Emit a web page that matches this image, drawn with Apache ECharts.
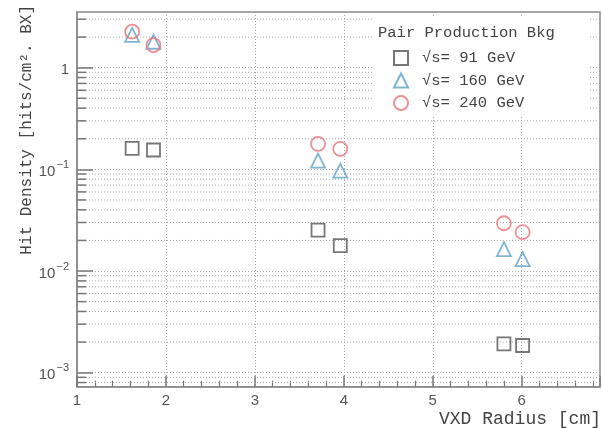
<!DOCTYPE html>
<html><head><meta charset="utf-8">
<script src="https://cdn.jsdelivr.net/npm/echarts@6/dist/echarts.min.js"></script>
<style>html,body{margin:0;padding:0;background:#fff}#c{width:602px;height:428px}</style>
</head><body><div id="c"></div>
<script>
// ---- data ----
const xRadius = [1.62, 1.86, 3.71, 3.96, 5.80, 6.01];
const hit91  = [0.161, 0.155, 0.0253, 0.0178, 0.00192, 0.00185];
const hit160 = [2.10, 1.80, 0.122, 0.097, 0.0164, 0.0131];
const hit240 = [2.26, 1.67, 0.178, 0.159, 0.0295, 0.0241];
const seriesNames = ['\u221As= 91 GeV', '\u221As= 160 GeV', '\u221As= 240 GeV'];
const legendTitle = 'Pair Production Bkg';
const xTitle = 'VXD Radius [cm]';
const yTitle = 'Hit Density [hits/cm\u00B2. BX]';
// axis ranges and minor log ticks
const xMin = 1, xMax = 6.88;
const yMin = 7.28e-4, yMax = 3.53;
const minorMantissas = [2, 3, 4, 5, 6, 7, 8, 9];
const minorDecades = [1e-4, 1e-3, 1e-2, 1e-1, 1];

const minorVals = [];
minorDecades.forEach(d => minorMantissas.forEach(m => {
  const v = +(m * d).toPrecision(3);
  if (v > yMin && v < yMax) minorVals.push(v);
}));

const mono = '"Liberation Mono", "DejaVu Sans Mono", monospace';
const sans = '"Liberation Sans", Arial, sans-serif';
const dotted = [1, 2];

function pts(ys) { return xRadius.map((x, i) => [x, ys[i]]); }

const chart = echarts.init(document.getElementById('c'), null, {renderer: 'canvas'});
chart.setOption({
  animation: false,
  backgroundColor: '#fff',
  grid: {left: 77, top: 12, right: 2, bottom: 41.3, show: true,
         borderColor: '#8a8a8a', borderWidth: 1.5, backgroundColor: 'transparent'},
  xAxis: {
    type: 'value', min: xMin, max: xMax, interval: 1,
    axisLine: {show: true, lineStyle: {color: '#8a8a8a', width: 1.5}},
    axisTick: {show: true, inside: true, length: 11, lineStyle: {color: '#777', width: 1.5}},
    minorTick: {show: true, splitNumber: 5, length: 6, lineStyle: {color: '#777', width: 1.2}},
    splitLine: {show: true, lineStyle: {color: '#a8a8a8', width: 1, type: dotted}},
    axisLabel: {color: '#555', fontSize: 15, fontFamily: sans, margin: 7, showMaxLabel: false},
  },
  yAxis: {
    type: 'log', logBase: 10, min: yMin, max: yMax,
    axisLine: {show: true, lineStyle: {color: '#8a8a8a', width: 1.5}},
    axisTick: {show: true, inside: true, length: 16, lineStyle: {color: '#777', width: 1.5}},
    splitLine: {show: true, lineStyle: {color: '#a8a8a8', width: 1, type: dotted}},
    axisLabel: {
      showMinLabel: false, showMaxLabel: false, margin: 8,
      color: '#555', fontFamily: sans,
      formatter: function (v) {
        const e = Math.round(Math.log10(v));
        if (e === 0) return '{a|1}';
        return '{a|10}{e|' + '\u2212' + (-e) + '}';
      },
      rich: {
        a: {fontSize: 15, fontFamily: sans, color: '#555', verticalAlign: 'bottom', lineHeight: 20},
        e: {fontSize: 11, fontFamily: sans, color: '#555', verticalAlign: 'top', lineHeight: 20, padding: [0, 0, 0, 1]}
      }
    }
  },
  legend: {
    data: seriesNames, orient: 'vertical', left: 393, top: 50, padding: 0,
    itemWidth: 14, itemHeight: 14, itemGap: 6.5, z: 20,
    textStyle: {fontFamily: mono, fontSize: 15.5, color: '#444', lineHeight: 14, padding: [0, 0, 0, 9]}
  },
  graphic: [
    {type: 'rect', z: 10, silent: true, shape: {x: 373, y: 18, width: 215, height: 97}, style: {fill: '#fff'}},
    {type: 'text', z: 20, silent: true, x: 378, y: 33, style: {text: legendTitle, font: '15.5px ' + mono, fill: '#444', verticalAlign: 'middle'}},
    {type: 'text', z: 20, silent: true, x: 601, y: 419, style: {text: xTitle, font: '18px ' + mono, fill: '#444', align: 'right', verticalAlign: 'middle'}},
    {type: 'text', z: 20, silent: true, x: 27, y: 5, rotation: Math.PI / 2, style: {text: yTitle, font: '16px ' + mono, fill: '#444', align: 'right', verticalAlign: 'middle'}}
  ],
  series: [
    {
      type: 'custom', silent: true, z: 1, coordinateSystem: 'cartesian2d',
      data: minorVals.map(v => [xMin, v]),
      renderItem: function (params, api) {
        const v = api.value(1);
        const p0 = api.coord([xMin, v]);
        const p1 = api.coord([xMax, v]);
        return {type: 'group', children: [
          {type: 'line', shape: {x1: p0[0], y1: p0[1], x2: p1[0], y2: p1[1]}, style: {stroke: '#a8a8a8', lineWidth: 1, lineDash: dotted}},
          {type: 'line', shape: {x1: p0[0], y1: p0[1], x2: p0[0] + 9, y2: p0[1]}, style: {stroke: '#777', lineWidth: 1.5}}
        ]};
      }
    },
    {name: seriesNames[0], type: 'scatter', symbol: 'rect', symbolSize: 13, data: pts(hit91),
     itemStyle: {color: 'transparent', borderColor: '#555', borderWidth: 1.8}},
    {name: seriesNames[1], type: 'scatter', symbol: 'triangle', symbolSize: 14, data: pts(hit160),
     itemStyle: {color: 'transparent', borderColor: '#5fa3c8', borderWidth: 1.8}},
    {name: seriesNames[2], type: 'scatter', symbol: 'circle', symbolSize: 14, data: pts(hit240),
     itemStyle: {color: 'transparent', borderColor: '#e8757c', borderWidth: 1.8}}
  ]
});
</script></body></html>
